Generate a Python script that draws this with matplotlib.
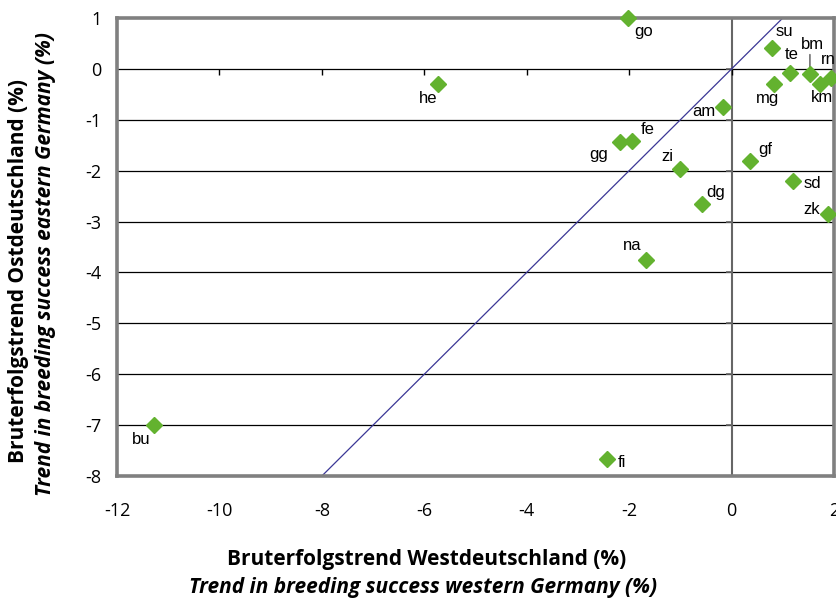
import numpy as np
import matplotlib.pyplot as plt

# Bruterfolgstrends (%) je Region: West (x) gegen Ost (y)
codes = ['go', 'he', 'su', 'te', 'bm', 'rn', 'km', 'mg', 'am', 'fe', 'gg',
         'zi', 'gf', 'sd', 'zk', 'dg', 'na', 'bu', 'fi']
west = [-2.02, -5.73, 0.79, 1.14, 1.53, 1.94, 1.73, 0.83, -0.17, -1.94, -2.18,
        -1.00, 0.36, 1.20, 1.88, -0.58, -1.67, -11.28, -2.43]
ost = [1.00, -0.29, 0.41, -0.08, -0.10, -0.18, -0.29, -0.29, -0.75, -1.41, -1.43,
       -1.96, -1.81, -2.20, -2.85, -2.65, -3.75, -7.00, -7.66]

# Versatz der Beschriftungen in Punkten
offsets = {
    'go': (11, -10), 'he': (-7, -11), 'su': (9, 12), 'te': (1, 13),
    'bm': (2, 21), 'rn': (-2, 13), 'km': (1, -10), 'mg': (-5, -11),
    'am': (-14, -3), 'fe': (11, 8), 'gg': (-15, -9), 'zi': (-9, 9),
    'gf': (11, 8), 'sd': (14, -2), 'zk': (-12, 3), 'dg': (10, 8),
    'na': (-10, 10), 'bu': (-9, -10), 'fi': (11, -3),
}

xticks = np.arange(-12, 3, 2)
yticks = np.arange(-8, 2, 1)

frame_grey = '#808080'
green = '#63b22f'

plt.rcParams['font.family'] = ['Open Sans', 'DejaVu Sans']
plt.rcParams['axes.unicode_minus'] = False

fig = plt.figure(figsize=(8.36, 6.01), dpi=100)
ax = fig.add_axes([117 / 836, 125 / 601, 717 / 836, 458 / 601])
ax.set_xlim(-12, 2)
ax.set_ylim(-8, 1)

# horizontale Hilfslinien
for yv in yticks[1:-1]:
    ax.axhline(yv, color='black', lw=0.9, zorder=1)

# Achse bei x = 0 mit kurzen Strichen
ax.axvline(0, color='#666666', lw=1.5, zorder=2)
ax.plot(np.full(len(yticks), 0), yticks, ls='none', marker=0,
        markersize=4, color='#666666', mew=1.2, clip_on=False, zorder=2)
# Striche an der Linie y = 0
ax.plot(xticks[1:-1], np.zeros(len(xticks) - 2), ls='none', marker=3,
        markersize=4, color='black', mew=1.0, zorder=2)

# Diagonale y = x
diag = np.array([-8, 1])
ax.plot(diag, diag, color='#3b3796', lw=0.9, zorder=2)

ax.plot(west, ost, ls='none', marker='D', markersize=8.2, color=green,
        clip_on=False, zorder=4)

for c, xv, yv in zip(codes, west, ost):
    dx, dy = offsets[c]
    ax.annotate(c, (xv, yv), xytext=(dx, dy), textcoords='offset points',
                ha='center', va='center', fontsize=12,
                family='Liberation Sans', zorder=5, annotation_clip=False)

# Zuordnungsstrich fuer bm
ax.annotate('', (west[4], ost[4]), xytext=(0, 14), textcoords='offset points',
            arrowprops=dict(arrowstyle='-', color='#555555', lw=1.0,
                            shrinkA=0, shrinkB=5))

for s in ax.spines.values():
    s.set_color(frame_grey)
    s.set_linewidth(2.6)

ax.set_xticks(xticks)
ax.set_yticks(yticks)
ax.tick_params(length=0, labelsize=13)
ax.tick_params(axis='x', pad=19)
ax.tick_params(axis='y', pad=11)

fig.text(427 / 836, 1 - 560 / 601, 'Bruterfolgstrend Westdeutschland (%)',
         ha='center', va='center', fontsize=15, fontweight='bold')
fig.text(423 / 836, 1 - 587 / 601, 'Trend in breeding success western Germany (%)',
         ha='center', va='center', fontsize=15, fontweight='bold', fontstyle='italic')
fig.text(19 / 836, 1 - 271 / 601, 'Bruterfolgstrend Ostdeutschland (%)',
         ha='center', va='center', fontsize=15, fontweight='bold', rotation=90)
fig.text(46 / 836, 1 - 264 / 601, 'Trend in breeding success eastern Germany (%)',
         ha='center', va='center', fontsize=15, fontweight='bold', fontstyle='italic',
         rotation=90)

fig.savefig('out.png', dpi=100)
